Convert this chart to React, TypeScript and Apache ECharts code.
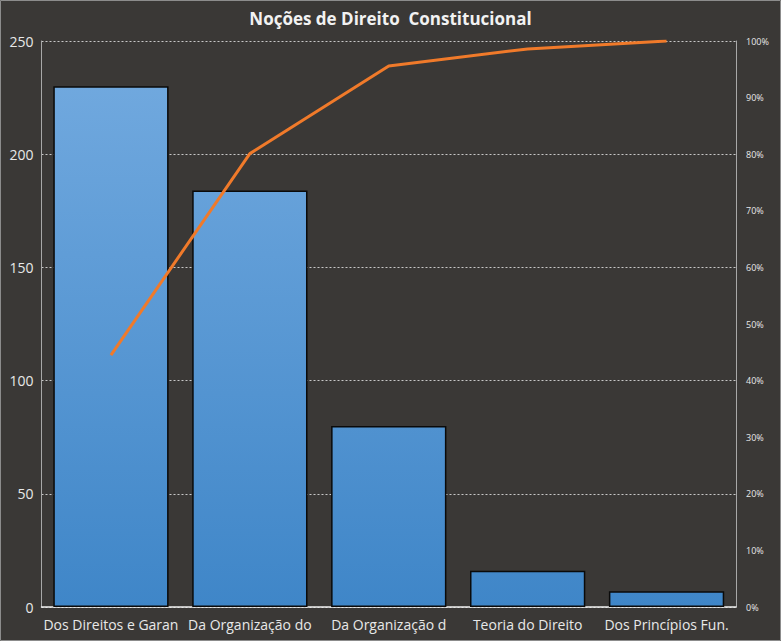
import React, { useEffect, useRef } from "react";
import * as echarts from "echarts";

const categories = [
  "Dos Direitos e Garan",
  "Da Organização do",
  "Da Organização d",
  "Teoria do Direito",
  "Dos Princípios Fun.",
];
const counts = [230, 184, 80, 16, 7];
const cumulativePct = [44.5, 80.1, 95.6, 98.6, 100];
const leftTicks = [0, 250, 50];
const rightTicks = [0, 100, 10];

const FONT = "'Open Sans', 'Noto Sans', sans-serif";

export default function App() {
  const ref = useRef<HTMLDivElement>(null);
  useEffect(() => {
    if (!ref.current) return;
    const chart = echarts.init(ref.current, null, { renderer: "svg" });
    chart.setOption({
      animation: false,
      backgroundColor: "#3a3836",
      title: {
        text: "Noções de Direito  Constitucional",
        left: "center",
        top: 5,
        textStyle: { color: "#f2f2f2", fontSize: 17, fontWeight: "bold", fontFamily: FONT },
      },
      graphic: [
        {
          type: "rect",
          shape: { x: 0.5, y: 0.5, width: 780, height: 640 },
          style: { fill: "none", stroke: "#8c8c8c", lineWidth: 1 },
          silent: true,
        },
      ],
      grid: { left: 41.5, right: 45, top: 41, bottom: 34 },
      xAxis: {
        type: "category",
        data: categories,
        axisLine: { lineStyle: { color: "#f0f0f0", width: 1.5 } },
        axisTick: { show: false },
        axisLabel: { color: "#e8e8e8", fontSize: 14, fontFamily: FONT, margin: 10, interval: 0 },
      },
      yAxis: [
        {
          type: "value",
          min: leftTicks[0],
          max: leftTicks[1],
          interval: leftTicks[2],
          axisLine: { show: true, lineStyle: { color: "#a8a8a8" } },
          axisTick: { show: false },
          axisLabel: { color: "#e8e8e8", fontSize: 14, fontFamily: FONT, margin: 8 },
          splitLine: { lineStyle: { color: "#c8c8c8", type: [2, 2], width: 1 } },
        },
        {
          type: "value",
          min: rightTicks[0],
          max: rightTicks[1],
          interval: rightTicks[2],
          position: "right",
          axisLine: { show: true, lineStyle: { color: "#a8a8a8" } },
          axisTick: { show: false },
          axisLabel: {
            color: "#e8e8e8",
            fontSize: 9,
            fontFamily: FONT,
            margin: 10,
            formatter: (v: number) => v + "%",
          },
          splitLine: { show: false },
        },
      ],
      series: [
        {
          type: "bar",
          data: counts,
          yAxisIndex: 0,
          barCategoryGap: "17%",
          itemStyle: {
            color: new echarts.graphic.LinearGradient(
              0,
              41,
              0,
              607,
              [
                { offset: 0, color: "#74abe0" },
                { offset: 1, color: "#3f86c8" },
              ],
              true
            ),
            borderColor: "#0a0a0a",
            borderWidth: 1.5,
          },
        },
        {
          type: "line",
          data: cumulativePct,
          yAxisIndex: 1,
          symbol: "none",
          lineStyle: { color: "#f07a2a", width: 3 },
        },
      ],
    });
    return () => chart.dispose();
  }, []);
  return (
    <div
      ref={ref}
      style={{ position: "fixed", left: 0, top: 0, width: 781, height: 641 }}
    />
  );
}
